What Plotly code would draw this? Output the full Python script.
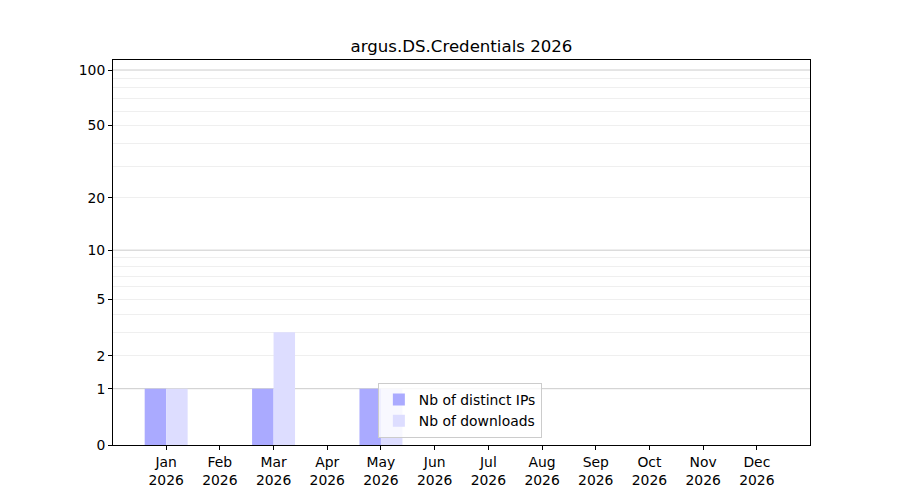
import numpy as np
import plotly.graph_objects as go

months = ["Jan", "Feb", "Mar", "Apr", "May", "Jun", "Jul", "Aug", "Sep", "Oct", "Nov", "Dec"]
year = "2026"
distinct_ips = [1, 0, 1, 0, 1, 0, 0, 0, 0, 0, 0, 0]
downloads = [1, 0, 3, 0, 1, 0, 0, 0, 0, 0, 0, 0]

major_ticks = [1, 10, 100]
labelled_minor = [2, 5, 20, 50]
minor_grid = [2, 3, 4, 5, 6, 7, 8, 9, 20, 30, 40, 50, 60, 70, 80, 90]


# y axis is log10(1 + x), like a matplotlib function scale
def fwd(v):
    return np.log10(1 + np.asarray(v, dtype=float))


x_idx = list(range(len(months)))
labels = [f"{m}<br>{year}" for m in months]

fig = go.Figure()
fig.add_trace(go.Bar(x=x_idx, y=fwd(distinct_ips), name="Nb of distinct IPs",
                     marker=dict(color="#aaaaff", line=dict(width=0)),
                     customdata=distinct_ips, hovertemplate="%{customdata}"))
fig.add_trace(go.Bar(x=x_idx, y=fwd(downloads), name="Nb of downloads",
                     marker=dict(color="#ddddff", line=dict(width=0)),
                     customdata=downloads, hovertemplate="%{customdata}"))

ytick_vals = [0] + sorted(major_ticks + labelled_minor)

fig.update_layout(
    width=900, height=500,
    paper_bgcolor="white", plot_bgcolor="white",
    margin=dict(l=105, r=98, t=52, b=63),
    font=dict(family="DejaVu Sans", size=13.9, color="black"),
    title=dict(text="argus.DS.Credentials 2026", x=(105 + 802) / 2 / 900, xanchor="center",
               y=1 - 38 / 500, yanchor="middle", font=dict(size=16.6)),
    barmode="group", bargap=0.2, bargroupgap=0,
    showlegend=True,
    legend=dict(x=0.38, y=0.018, xanchor="left", yanchor="bottom",
                bgcolor="rgba(255,255,255,0.8)", bordercolor="#cccccc", borderwidth=1,
                font=dict(size=13.9), tracegroupgap=0),
)

fig.update_xaxes(
    range=[-0.99, 11.99], tickmode="array", tickvals=x_idx, ticktext=labels,
    showline=True, mirror=True, linecolor="black", linewidth=1,
    ticks="outside", ticklen=4, tickcolor="black", showgrid=False, zeroline=False,
)

fig.update_yaxes(
    range=[0, 2.058], tickmode="array", tickvals=fwd(ytick_vals).tolist(),
    ticktext=[str(v) for v in ytick_vals],
    showline=True, mirror=True, linecolor="black", linewidth=1,
    ticks="outside", ticklen=4, tickcolor="black",
    showgrid=False, zeroline=False,
    minor=dict(tickmode="array", tickvals=fwd(minor_grid).tolist(), showgrid=True,
               gridcolor="#efefef", gridwidth=1, ticks=""),
)

# darker grid on the decades
for v in major_ticks:
    fig.add_shape(type="line", xref="paper", x0=0, x1=1, yref="y", y0=float(fwd(v)), y1=float(fwd(v)),
                  line=dict(color="#cccccc", width=1), layer="below")

fig.write_html("out.html")
